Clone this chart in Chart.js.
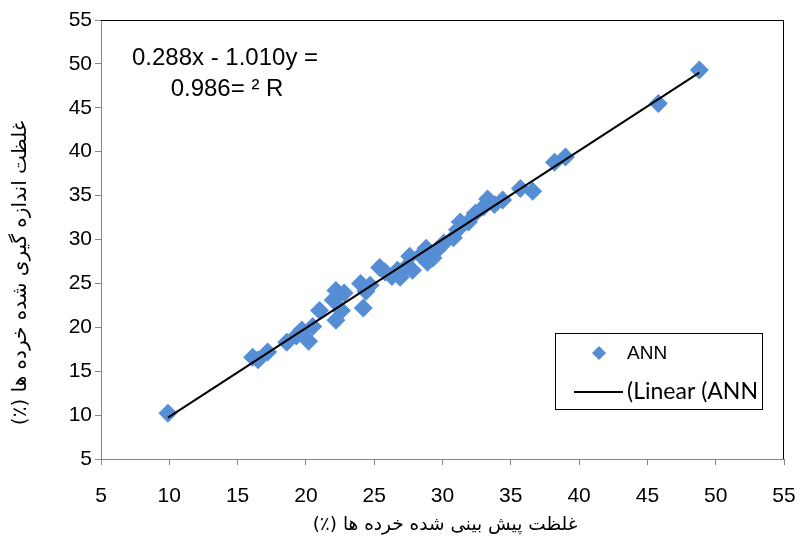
<!DOCTYPE html>
<html>
<head>
<meta charset="utf-8">
<script src="https://cdn.jsdelivr.net/npm/chart.js@4.4.0/dist/chart.umd.min.js"></script>
<style>
  html, body { margin: 0; padding: 0; background: #fff; }
  #wrap { width: 802px; height: 544px; }
</style>
</head>
<body>
<div id="wrap"><canvas id="chart" width="802" height="544"></canvas></div>
<script>
const predicted = [
  9.9, 16.1, 16.5, 17.2, 18.6, 19.3, 19.7, 20.2, 20.5, 21.0,
  22.0, 22.2, 22.2, 22.6, 22.8, 24.2, 24.0, 24.4, 24.7, 25.4,
  25.8, 26.3, 26.7, 26.9, 27.3, 27.6, 27.8, 28.4, 28.8, 28.9,
  29.3, 29.6, 30.1, 30.8, 31.1, 31.3, 31.9, 32.4, 33.0, 33.3,
  33.8, 34.4, 35.7, 36.6, 38.2, 39.0, 45.8, 48.8
]
const measured = [
  10.2, 16.6, 16.3, 17.2, 18.3, 19.0, 19.7, 18.4, 20.1, 21.9,
  23.1, 24.2, 20.8, 21.9, 23.9, 22.2, 25.0, 24.1, 24.8, 26.8,
  26.3, 25.8, 26.5, 25.7, 26.8, 28.1, 26.5, 28.2, 29.0, 27.4,
  27.9, 28.8, 29.6, 30.2, 31.1, 32.0, 32.0, 33.0, 33.7, 34.6,
  34.0, 34.5, 35.8, 35.5, 38.8, 39.4, 45.5, 49.3
]
const axisMin = 5
const axisMax = 55
const axisStep = 5
const trendSlope = 1.010
const trendIntercept = -0.288

const seriesLabel = 'ANN'
const trendLabel = '(Linear (ANN'
const equationLines = ['0.288x - 1.010y =', '0.986= ² R']
const xTitle = 'غلظت پیش بینی شده خرده ها (٪)'
const yTitle = 'غلظت اندازه گیری شده خرده ها (٪)'

const BLUE = '#558ed5'
const GREY = '#868686'

const points = predicted.map((x, i) => ({ x, y: measured[i] }))
const xLo = Math.min(...predicted)
const xHi = Math.max(...predicted)
const trend = [xLo, xHi].map((x) => ({ x, y: trendSlope * x + trendIntercept }))

// Cadre, titres, équation et légende dessinés à la main
const decorPlugin = {
  id: 'decor',
  afterDraw(chart) {
    const { ctx, chartArea: a } = chart
    ctx.save()
    ctx.strokeStyle = '#000'
    ctx.lineWidth = 1
    ctx.beginPath()
    ctx.moveTo(a.left, a.top + 0.5)
    ctx.lineTo(a.right - 0.5, a.top + 0.5)
    ctx.lineTo(a.right - 0.5, a.bottom)
    ctx.stroke()

    // équation
    ctx.fillStyle = '#000'
    ctx.direction = 'ltr'
    ctx.textAlign = 'center'
    ctx.textBaseline = 'middle'
    ctx.font = '24px "Liberation Sans", Arial, sans-serif'
    ctx.fillText(equationLines[0], 225, 58)
    ctx.fillText(equationLines[1], 227, 89)

    // légende
    ctx.strokeRect(555.5, 333.5, 207, 76)
    ctx.fillStyle = BLUE
    ctx.beginPath()
    ctx.moveTo(599, 346)
    ctx.lineTo(606, 353)
    ctx.lineTo(599, 360)
    ctx.lineTo(592, 353)
    ctx.closePath()
    ctx.fill()
    ctx.fillStyle = '#000'
    ctx.textAlign = 'left'
    ctx.font = '19px "Liberation Sans", Arial, sans-serif'
    ctx.fillText(seriesLabel, 627, 354)
    ctx.lineWidth = 2
    ctx.beginPath()
    ctx.moveTo(574, 392)
    ctx.lineTo(623, 392)
    ctx.stroke()
    ctx.font = '23px Lato, sans-serif'
    ctx.fillText(trendLabel, 627, 392)

    // titres des axes
    ctx.direction = 'rtl'
    ctx.textAlign = 'center'
    ctx.font = '18.5px "DejaVu Sans", sans-serif'
    ctx.fillText(xTitle, 445, 525)
    ctx.font = '20px "DejaVu Sans", sans-serif'
    ctx.translate(21, 273)
    ctx.rotate(-Math.PI / 2)
    ctx.fillText(yTitle, 0, 0)
    ctx.restore()
  }
}

const tickFont = { family: '"Liberation Sans", Arial, sans-serif', size: 21 }

new Chart(document.getElementById('chart'), {
  type: 'scatter',
  data: {
    datasets: [
      {
        label: trendLabel,
        type: 'line',
        data: trend,
        borderColor: '#000',
        borderWidth: 2,
        pointRadius: 0,
        fill: false,
        order: 0
      },
      {
        label: seriesLabel,
        data: points,
        pointStyle: 'rectRot',
        pointRadius: 9.5,
        backgroundColor: BLUE,
        borderWidth: 0,
        order: 1
      }
    ]
  },
  options: {
    responsive: false,
    animation: false,
    devicePixelRatio: 1,
    layout: { padding: { top: 20, right: 18, left: 0, bottom: 0 } },
    plugins: {
      legend: { display: false },
      tooltip: { enabled: false }
    },
    scales: {
      x: {
        type: 'linear',
        min: axisMin,
        max: axisMax,
        afterFit: (s) => {
          s.height = 85
          // les étiquettes débordantes ne doivent pas rétrécir la zone
          s.paddingLeft = 0
          s.paddingRight = 0
        },
        ticks: { stepSize: axisStep, color: '#000', font: tickFont, padding: 19, maxRotation: 0 },
        grid: { drawOnChartArea: false, drawTicks: true, tickLength: 6, color: GREY },
        border: { color: GREY, width: 1 }
      },
      y: {
        type: 'linear',
        min: axisMin,
        max: axisMax,
        afterFit: (s) => { s.width = 101 },
        ticks: { stepSize: axisStep, color: '#000', font: tickFont, padding: 3 },
        grid: { drawOnChartArea: false, drawTicks: true, tickLength: 6, color: GREY },
        border: { color: GREY, width: 1 }
      }
    }
  },
  plugins: [decorPlugin]
})
</script>
</body>
</html>
